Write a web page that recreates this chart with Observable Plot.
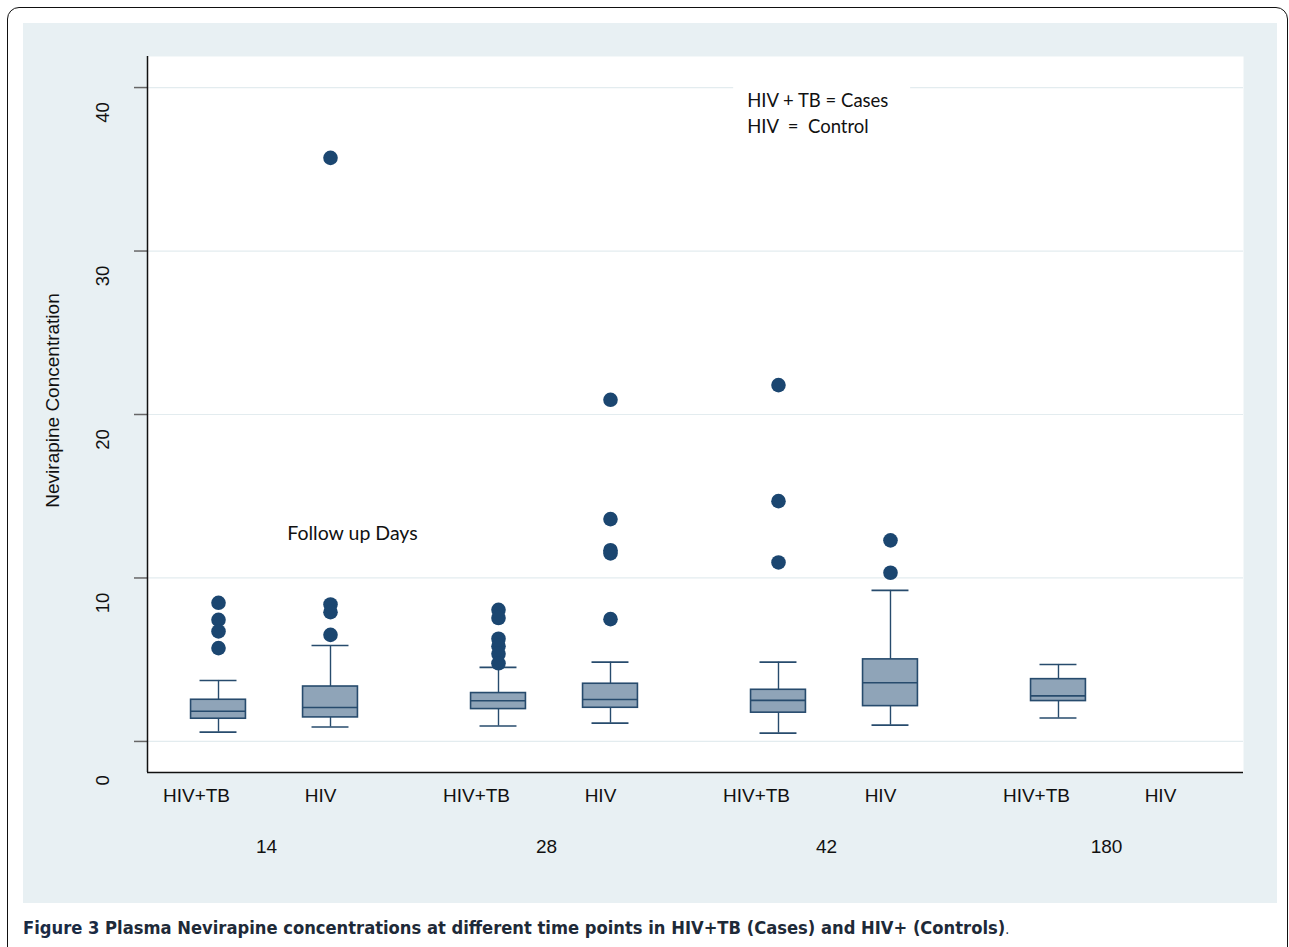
<!DOCTYPE html>
<html>
<head>
<meta charset="utf-8">
<script src="https://cdn.jsdelivr.net/npm/d3@7"></script>
<script src="https://cdn.jsdelivr.net/npm/@observablehq/plot@0.6"></script>
<style>
  html, body { margin: 0; padding: 0; background: #ffffff; width: 1289px; height: 947px; overflow: hidden; }
  #frame { position: absolute; left: 7px; top: 7px; width: 1281px; height: 960px; border: 1.5px solid #111; border-radius: 12px; box-sizing: border-box; }
  #panel { position: absolute; left: 23px; top: 23px; width: 1254px; height: 880px; background: #e8f0f3; }
  #caption { position: absolute; left: 23px; top: 917px; font-family: "Liberation Sans Narrow", "DejaVu Sans Condensed", sans-serif; font-weight: bold; font-size: 18.2px; color: #1e2a38; white-space: nowrap; }
  #caption .fig { color: #1a2b44; }
  #caption .dot { font-weight: normal; font-size: 14px; }
</style>
</head>
<body>
<div id="frame"></div>
<div id="panel"></div>
<div id="caption"><span class="fig">Figure 3</span> Plasma Nevirapine concentrations at different time points in HIV+TB (Cases) and HIV+ (Controls)<span class="dot">.</span></div>
<script>
// ---- data ----
const groups = ["14", "28", "42", "180"];
const types = ["HIV+TB", "HIV"];

// box summaries (group, type, lower whisker, q1, median, q3, upper whisker)
const boxGroup = ["14", "14", "28", "28", "42", "42", "180"];
const boxType  = ["HIV+TB", "HIV", "HIV+TB", "HIV", "HIV+TB", "HIV", "HIV+TB"];
const boxLow   = [0.57, 0.88, 0.94, 1.12, 0.51, 1.00, 1.43];
const boxQ1    = [1.39, 1.47, 1.98, 2.06, 1.76, 2.16, 2.47];
const boxMed   = [1.85, 2.08, 2.49, 2.57, 2.51, 3.59, 2.79];
const boxQ3    = [2.55, 3.36, 2.96, 3.53, 3.16, 5.02, 3.81];
const boxHigh  = [3.73, 5.87, 4.53, 4.85, 4.85, 9.24, 4.71];

// outside values
const outGroup = ["14","14","14","14", "14","14","14","14", "28","28","28","28","28","28", "28","28","28","28","28", "42","42","42", "42","42"];
const outType  = ["HIV+TB","HIV+TB","HIV+TB","HIV+TB", "HIV","HIV","HIV","HIV", "HIV+TB","HIV+TB","HIV+TB","HIV+TB","HIV+TB","HIV+TB", "HIV","HIV","HIV","HIV","HIV", "HIV+TB","HIV+TB","HIV+TB", "HIV","HIV"];
const outValue = [8.48, 7.44, 6.73, 5.71, 35.7, 8.38, 7.91, 6.52, 8.05, 7.55, 6.28, 5.83, 5.36, 4.78, 20.9, 13.6, 11.7, 11.5, 7.48, 21.8, 14.7, 10.95, 12.3, 10.32];

const yTicks = [0, 10, 20, 30, 40];
const yLabel = "Nevirapine Concentration";
const note1 = "Follow up Days";
const note2 = ["HIV + TB = Cases", "HIV  =  Control"];

// ---- derived tables ----
const pos = (g, t) => groups.indexOf(g) * 2.5 + types.indexOf(t);
const boxes = boxGroup.map((g, i) => ({
  p: pos(g, boxType[i]), lo: boxLow[i], q1: boxQ1[i], med: boxMed[i], q3: boxQ3[i], hi: boxHigh[i]
}));
const outs = outGroup.map((g, i) => ({ p: pos(g, outType[i]), v: outValue[i] }));
const catLabels = [];
groups.forEach(g => types.forEach(t => catLabels.push({ p: pos(g, t), t })));
const grpLabels = groups.map(g => ({ p: pos(g, "HIV+TB") + 0.5, g }));

const xDom = [-0.634, 9.152];
const yDom = [-1.9, 41.9];
const boxHalf = 0.245, capHalf = 0.165;
const navy = "#274b6d";
const arial = "Liberation Sans, Arial, sans-serif";
const calibri = "Lato, 'Open Sans', sans-serif";

const chart = Plot.plot({
  width: 1254,
  height: 880,
  marginLeft: 124,
  marginRight: 34,
  marginTop: 33,
  marginBottom: 131,
  style: { background: "transparent", fontFamily: arial },
  x: { domain: xDom, axis: null },
  y: { domain: yDom, axis: null },
  marks: [
    Plot.frame({ fill: "white", stroke: null }),
    Plot.gridY(yTicks, { stroke: "#e3ecef", strokeOpacity: 1, strokeWidth: 1.2 }),
    Plot.axisY({ ticks: yTicks, tickSize: 13, tickFormat: () => "", stroke: "#666", strokeWidth: 1.5 }),
    // y tick labels (rotated)
    Plot.text(yTicks.filter(d => d !== 0), { y: d => d, frameAnchor: "left", textAnchor: "middle", dx: -44, dy: 25, rotate: -90, text: d => String(d), fontSize: 18.5, fill: "#111" }),
    Plot.text(yTicks.filter(d => d === 0), { y: d => d, frameAnchor: "left", textAnchor: "middle", dx: -44, dy: 39, rotate: -90, text: d => String(d), fontSize: 18.5, fill: "#111" }),
    // y axis title
    Plot.text([yLabel], { frameAnchor: "left", textAnchor: "middle", dx: -95, dy: -14, rotate: -90, text: d => d, fontSize: 19, fill: "#111" }),
    // axis lines
    Plot.ruleX([xDom[0]], { stroke: "#111", strokeWidth: 1.5 }),
    Plot.ruleY([yDom[0]], { stroke: "#111", strokeWidth: 1.5 }),
    // legend background
    Plot.rect([note2], { x1: 4.6, x2: 6.18, y1: 36.6, y2: 40.55, fill: "white" }),
    // whiskers
    Plot.ruleX(boxes, { x: "p", y1: "lo", y2: "q1", stroke: navy, strokeWidth: 1.4 }),
    Plot.ruleX(boxes, { x: "p", y1: "q3", y2: "hi", stroke: navy, strokeWidth: 1.4 }),
    Plot.ruleY(boxes, { y: "lo", x1: d => d.p - capHalf, x2: d => d.p + capHalf, stroke: navy, strokeWidth: 1.6 }),
    Plot.ruleY(boxes, { y: "hi", x1: d => d.p - capHalf, x2: d => d.p + capHalf, stroke: navy, strokeWidth: 1.6 }),
    // boxes
    Plot.rect(boxes, { x1: d => d.p - boxHalf, x2: d => d.p + boxHalf, y1: "q1", y2: "q3", fill: "#8fa4b8", stroke: navy, strokeWidth: 1.6 }),
    Plot.ruleY(boxes, { y: "med", x1: d => d.p - boxHalf, x2: d => d.p + boxHalf, stroke: navy, strokeWidth: 1.6 }),
    // outliers
    Plot.dot(outs, { x: "p", y: "v", r: 7.3, fill: "#1b4670", stroke: null }),
    // category labels
    Plot.text(catLabels.filter(d => d.t === "HIV+TB"), { x: "p", text: "t", frameAnchor: "bottom", dx: -22, dy: 29, fontSize: 19, fill: "#111" }),
    Plot.text(catLabels.filter(d => d.t === "HIV"), { x: "p", text: "t", frameAnchor: "bottom", dx: -10, dy: 29, fontSize: 19, fill: "#111" }),
    Plot.text(grpLabels, { x: "p", text: "g", frameAnchor: "bottom", dx: -8, dy: 80, fontSize: 19, fill: "#111" }),
    // annotations
    Plot.text([note1], { x: 1.196, y: 12.7, text: d => d, fontSize: 19.5, fontFamily: calibri, fill: "#111" }),
    Plot.text(note2, { x: 4.72, y: (d, i) => 39.18 - i * 1.59, text: d => d, textAnchor: "start", fontSize: 18.5, fontFamily: calibri, fill: "#111" })
  ]
});
chart.style.position = "absolute";
chart.style.left = "23px";
chart.style.top = "23px";
document.body.appendChild(chart);
</script>
</body>
</html>
